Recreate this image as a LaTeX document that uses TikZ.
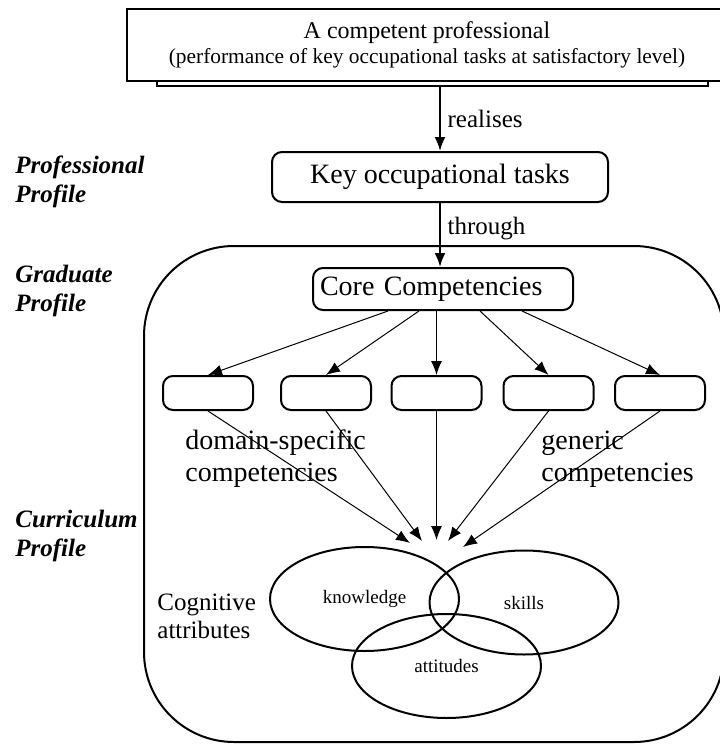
\documentclass[tikz,border=0pt]{standalone}
\usepackage{fontspec}
\setmainfont{Liberation Serif}
\usetikzlibrary{arrows.meta,shapes.geometric}

\tikzset{
  box/.style={draw, line width=1pt, fill=white, inner sep=0pt},
  rbox/.style={box, rounded corners=5pt},
  cbox/.style={rbox, minimum width=45pt, minimum height=17pt},
  attr/.style={draw, ellipse, line width=1pt, minimum width=94.5pt, minimum height=52pt, inner sep=0pt, font=\fontsize{9.5}{11}\selectfont},
  flow/.style={-{Latex[length=7pt,width=5.5pt]}, line width=1pt},
  feed/.style={-{Latex[length=7pt,width=5.5pt]}, line width=0.5pt},
  big/.style={font=\fontsize{14}{16}\selectfont},
  mid/.style={font=\fontsize{12.5}{14}\selectfont},
  profile/.style={font=\fontsize{12.5}{14.5}\selectfont\bfseries\itshape, align=left, anchor=west, inner sep=0pt},
}

\begin{document}
\begin{tikzpicture}[x=0.5pt, y=-0.5pt]
    \useasboundingbox (0,0) rectangle (719,744);

    % Professional box with its shadow
    \node[box, minimum width=275.5pt, minimum height=13.5pt] (prosh) at (432.5,72.5) {};
    \node[box, minimum width=300pt, minimum height=36pt, align=center, font=\fontsize{10.7}{12.5}\selectfont] (pro) at (427,45)
        {{\fontsize{12}{12.5}\selectfont A competent professional}\\(performance of key occupational tasks at satisfactory level)};

    % Graduate / curriculum frame
    \draw[line width=1pt, rounded corners=45pt] (144,246) rectangle (724,742);

    % Tasks and core
    \node[rbox, big, minimum width=168pt, minimum height=25pt] (key) at (440,177) {Key occupational tasks};
    \node[rbox, big, minimum width=130pt, minimum height=21pt, text width=123pt, align=left] (core) at (443,289) {Core Competencies};

    \draw[flow] (prosh.south -| key.north) -- (key.north) node[midway, right, mid] {realises};
    \draw[flow] (key.south) -- (key.south |- core.north) node[pos=0.4, right, mid] {through};

    % Competency boxes
    \node[cbox] (b1) at (208,393) {};
    \node[cbox] (b2) at (326,393) {};
    \node[cbox] (b3) at (436.5,393) {};
    \node[cbox] (b4) at (548.5,393) {};
    \node[cbox] (b5) at (660,393) {};

    \draw[feed] ([xshift=-27.5pt]core.south) -- (b1.north);
    \draw[feed] ([xshift=-12pt]core.south) -- (b2.north);
    \draw[feed] (b3.north |- core.south) -- (b3.north);
    \draw[feed] ([xshift=18.5pt]core.south) -- (b4.north);
    \draw[feed] ([xshift=39.5pt]core.south) -- (b5.north);

    \node[big, align=left, anchor=west, inner sep=0pt] (dom) at (185,459) {domain-specific\\competencies};
    \node[big, align=left, anchor=west, inner sep=0pt] (gen) at (541,459) {generic\\competencies};

    % Converging arrows
    \coordinate (t1) at (410,543);
    \coordinate (t2) at (422,541);
    \coordinate (t3) at (436.5,540);
    \coordinate (t4) at (448,541);
    \coordinate (t5) at (463,547);
    \draw[feed] (b1.south) -- (t1);
    \draw[feed] (b2.south) -- (t2);
    \draw[feed] (b3.south) -- (t3);
    \draw[feed] (b4.south) -- (t4);
    \draw[feed] (b5.south) -- (t5);

    % Cognitive attributes
    \node[attr] (know) at (364.5,599) {knowledge};
    \node[attr] (skill) at (524,602.5) {skills};
    \node[attr] (att) at (446.5,666) {attitudes};
    \node[mid, align=left, anchor=west, inner sep=0pt] (cog) at (157,616) {Cognitive\\attributes};

    % Profile labels
    \node[profile] (pp) at (15,182) {Professional\\Profile};
    \node[profile] (gp) at (15,291) {Graduate\\Profile};
    \node[profile] (cp) at (15,536) {Curriculum\\Profile};
\end{tikzpicture}
\end{document}
